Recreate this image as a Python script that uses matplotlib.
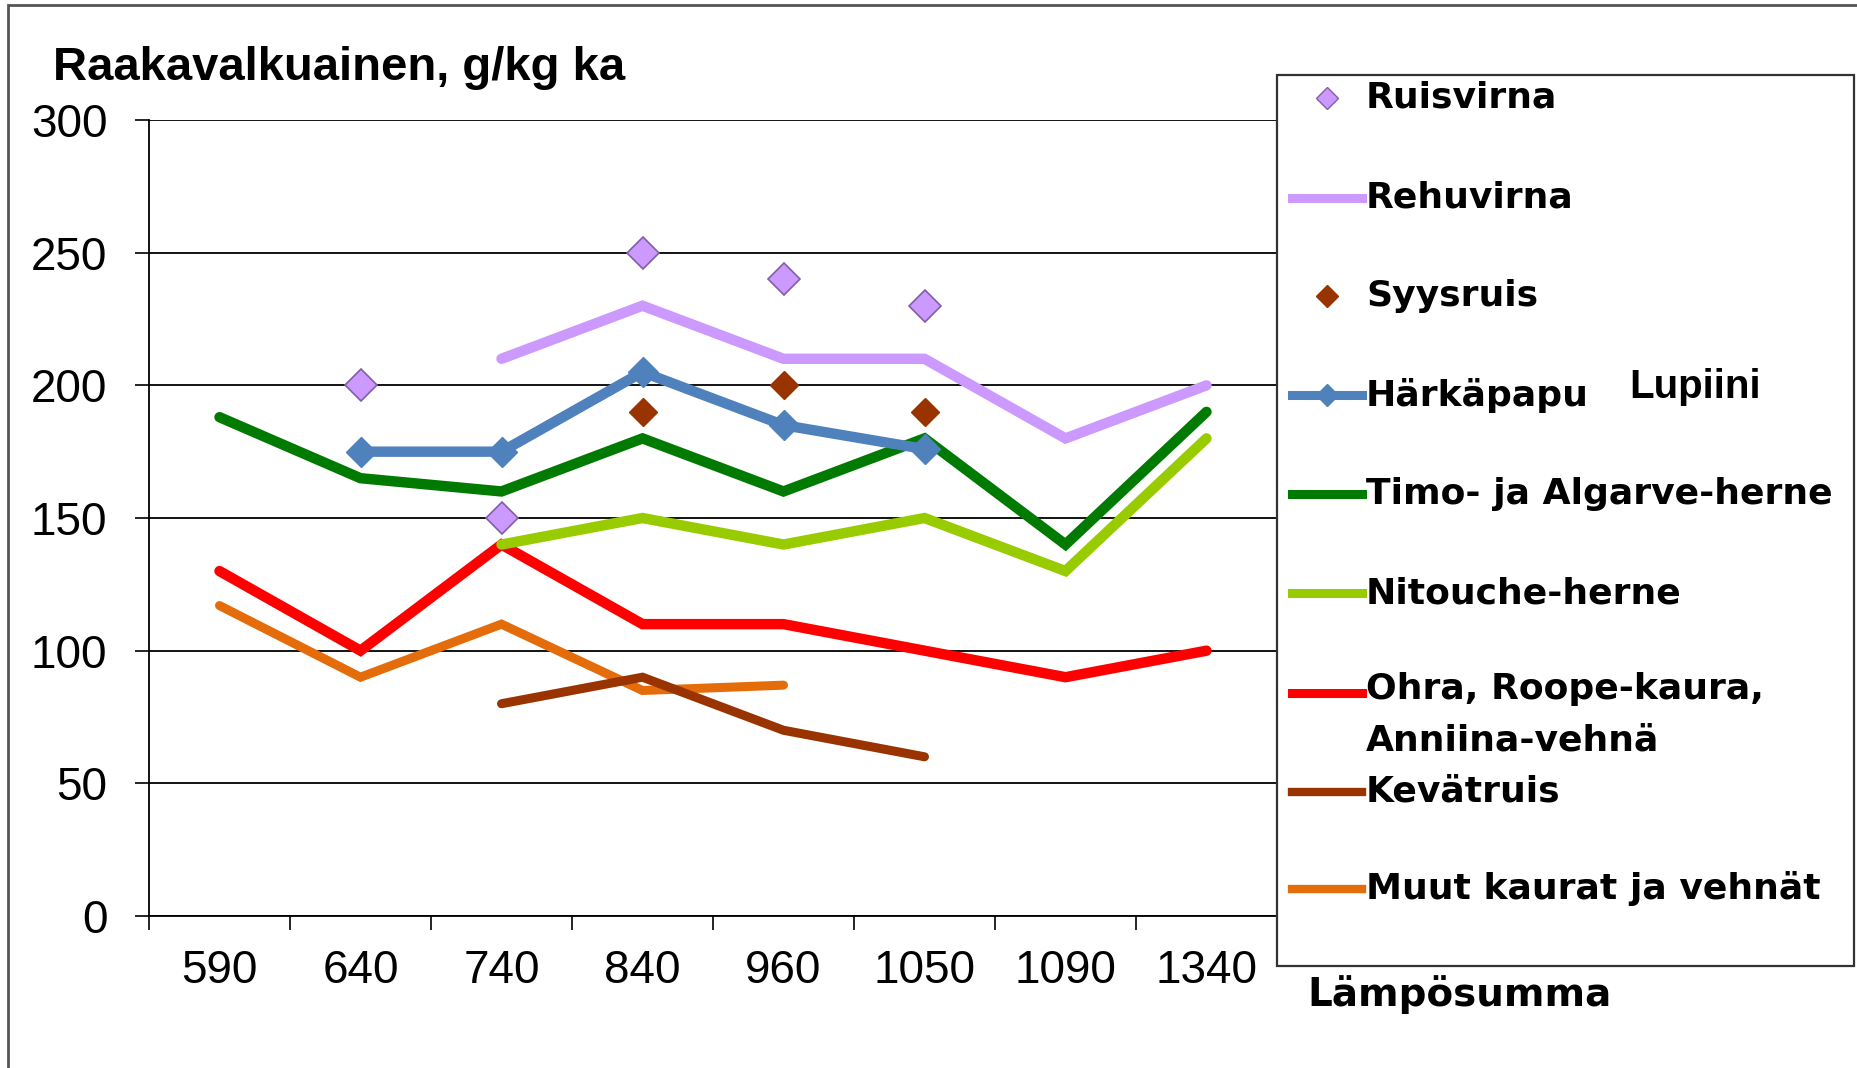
import numpy as np
import matplotlib.pyplot as plt
from matplotlib.lines import Line2D
from matplotlib.patches import Rectangle

# heat sums (categorical x axis)
lampo = ['590', '640', '740', '840', '960', '1050', '1090', '1340']
nan = np.nan

ruisvirna = [nan, 200, 150, 250, 240, 230, nan, nan]
rehuvirna = [nan, nan, 210, 230, 210, 210, 180, 200]
syysruis = [nan, nan, nan, 190, 200, 190, nan, nan]
harkapapu = [nan, 175, 175, 205, 185, 176, nan, nan]
timo_algarve = [188, 165, 160, 180, 160, 180, 140, 190]
nitouche = [nan, nan, 140, 150, 140, 150, 130, 180]
ohra_roope = [130, 100, 140, 110, 110, 100, 90, 100]
kevatruis = [nan, nan, 80, 90, 70, 60, nan, nan]
muut_kaurat = [117, 90, 110, 85, 87, nan, nan, nan]

W, H = 1858, 1068
fig = plt.figure(figsize=(W / 100, H / 100), dpi=100)
ax = fig.add_axes([149 / W, 1 - 916 / H, (1277 - 149) / W, (916 - 120) / H])

x = np.arange(len(lampo))

def series(vals, **kw):
    v = np.array(vals, dtype=float)
    ax.plot(x, v, solid_capstyle='round', solid_joinstyle='miter', **kw)

# order of drawing roughly like the original
series(muut_kaurat, color='#E46C0A', lw=6.5)
series(kevatruis, color='#993300', lw=6.5)
series(ohra_roope, color='#FF0000', lw=7.5)
series(nitouche, color='#99CC00', lw=7.5)
series(timo_algarve, color='#007A00', lw=7.5)
series(harkapapu, color='#4F81BD', lw=7.5, marker='D', ms=15, mec='#4F81BD')
series(rehuvirna, color='#CC99FF', lw=7.5)
ax.plot(x, np.array(syysruis, dtype=float), ls='none', marker='D', ms=14,
        mfc='#993300', mec='#993300')
ax.plot(x, np.array(ruisvirna, dtype=float), ls='none', marker='D', ms=16,
        mfc='#CC99FF', mec='#7F5FA8', mew=1.2)

ax.set_xlim(-0.5, len(lampo) - 0.5)
ax.set_ylim(0, 300)
ax.set_yticks(np.arange(0, 301, 50))
ax.set_xticks(np.arange(-0.5, len(lampo) + 0.5, 1))
ax.set_xticklabels([])
ax.set_xticks(x, minor=True)
ax.set_xticklabels(lampo, minor=True)
ax.tick_params(axis='x', which='major', direction='out', length=10, width=1.2, color='black')
ax.tick_params(axis='x', which='minor', length=0, pad=24, labelsize=33)
ax.tick_params(axis='y', direction='out', length=10, width=1.2, pad=20, labelsize=33)
for lab in ax.get_xticklabels(minor=True) + ax.get_yticklabels():
    lab.set_family('Liberation Sans')
ax.yaxis.grid(True, color='black', lw=1.3)
ax.set_axisbelow(True)
for s in ['top', 'right']:
    ax.spines[s].set_visible(False)
for s in ['left', 'bottom']:
    ax.spines[s].set_linewidth(1.3)

fig.text(53 / W, 1 - 80 / H, 'Raakavalkuainen, g/kg ka', fontsize=34,
         fontweight='bold', family='Liberation Sans', va='baseline')
fig.text(1307 / W, 1 - 995 / H, 'Lämpösumma', fontsize=28, fontweight='bold',
         family='DejaVu Sans', va='center')

# outer frame of the picture
fig.add_artist(Rectangle((8 / W, -0.05), 1.2, 1.05 - 5 / H, transform=fig.transFigure,
                         fill=False, ec='#555555', lw=2))

# legend box
fig.add_artist(Rectangle((1277 / W, 1 - 966 / H), (1854 - 1277) / W, (966 - 75) / H,
                         transform=fig.transFigure, facecolor='white', ec='#333333', lw=1.6))

leg_items = [
    ('Ruisvirna', dict(ls='none', marker='D', ms=11, mfc='#CC99FF', mec='#7F5FA8'), 98),
    ('Rehuvirna', dict(color='#CC99FF', lw=6.5), 198),
    ('Syysruis', dict(ls='none', marker='D', ms=11, mfc='#993300', mec='#993300'), 296),
    ('Härkäpapu', dict(color='#4F81BD', lw=6.5, marker='D', ms=11, mec='#4F81BD'), 395),
    ('Timo- ja Algarve-herne', dict(color='#007A00', lw=6.5), 494),
    ('Nitouche-herne', dict(color='#99CC00', lw=6.5), 593),
    ('Ohra, Roope-kaura,\nAnniina-vehnä', dict(color='#FF0000', lw=6.5), 693),
    ('Kevätruis', dict(color='#993300', lw=6), 792),
    ('Muut kaurat ja vehnät', dict(color='#E46C0A', lw=6), 889),
]
for label, style, ypx in leg_items:
    yf = 1 - ypx / H
    fig.add_artist(Line2D([1292 / W, 1327 / W, 1362 / W], [yf, yf, yf],
                          transform=fig.transFigure, markevery=[1], **style))
    multi = '\n' in label
    fig.text(1366 / W, yf + (21 / H if multi else 0), label, fontsize=26,
             fontweight='bold', family='DejaVu Sans',
             va='top' if multi else 'center', linespacing=1.65)

fig.text(1629 / W, 1 - 387 / H, 'Lupiini', fontsize=29, fontweight='bold',
         family='Liberation Sans', va='center')

plt.savefig('out.png', dpi=100)
